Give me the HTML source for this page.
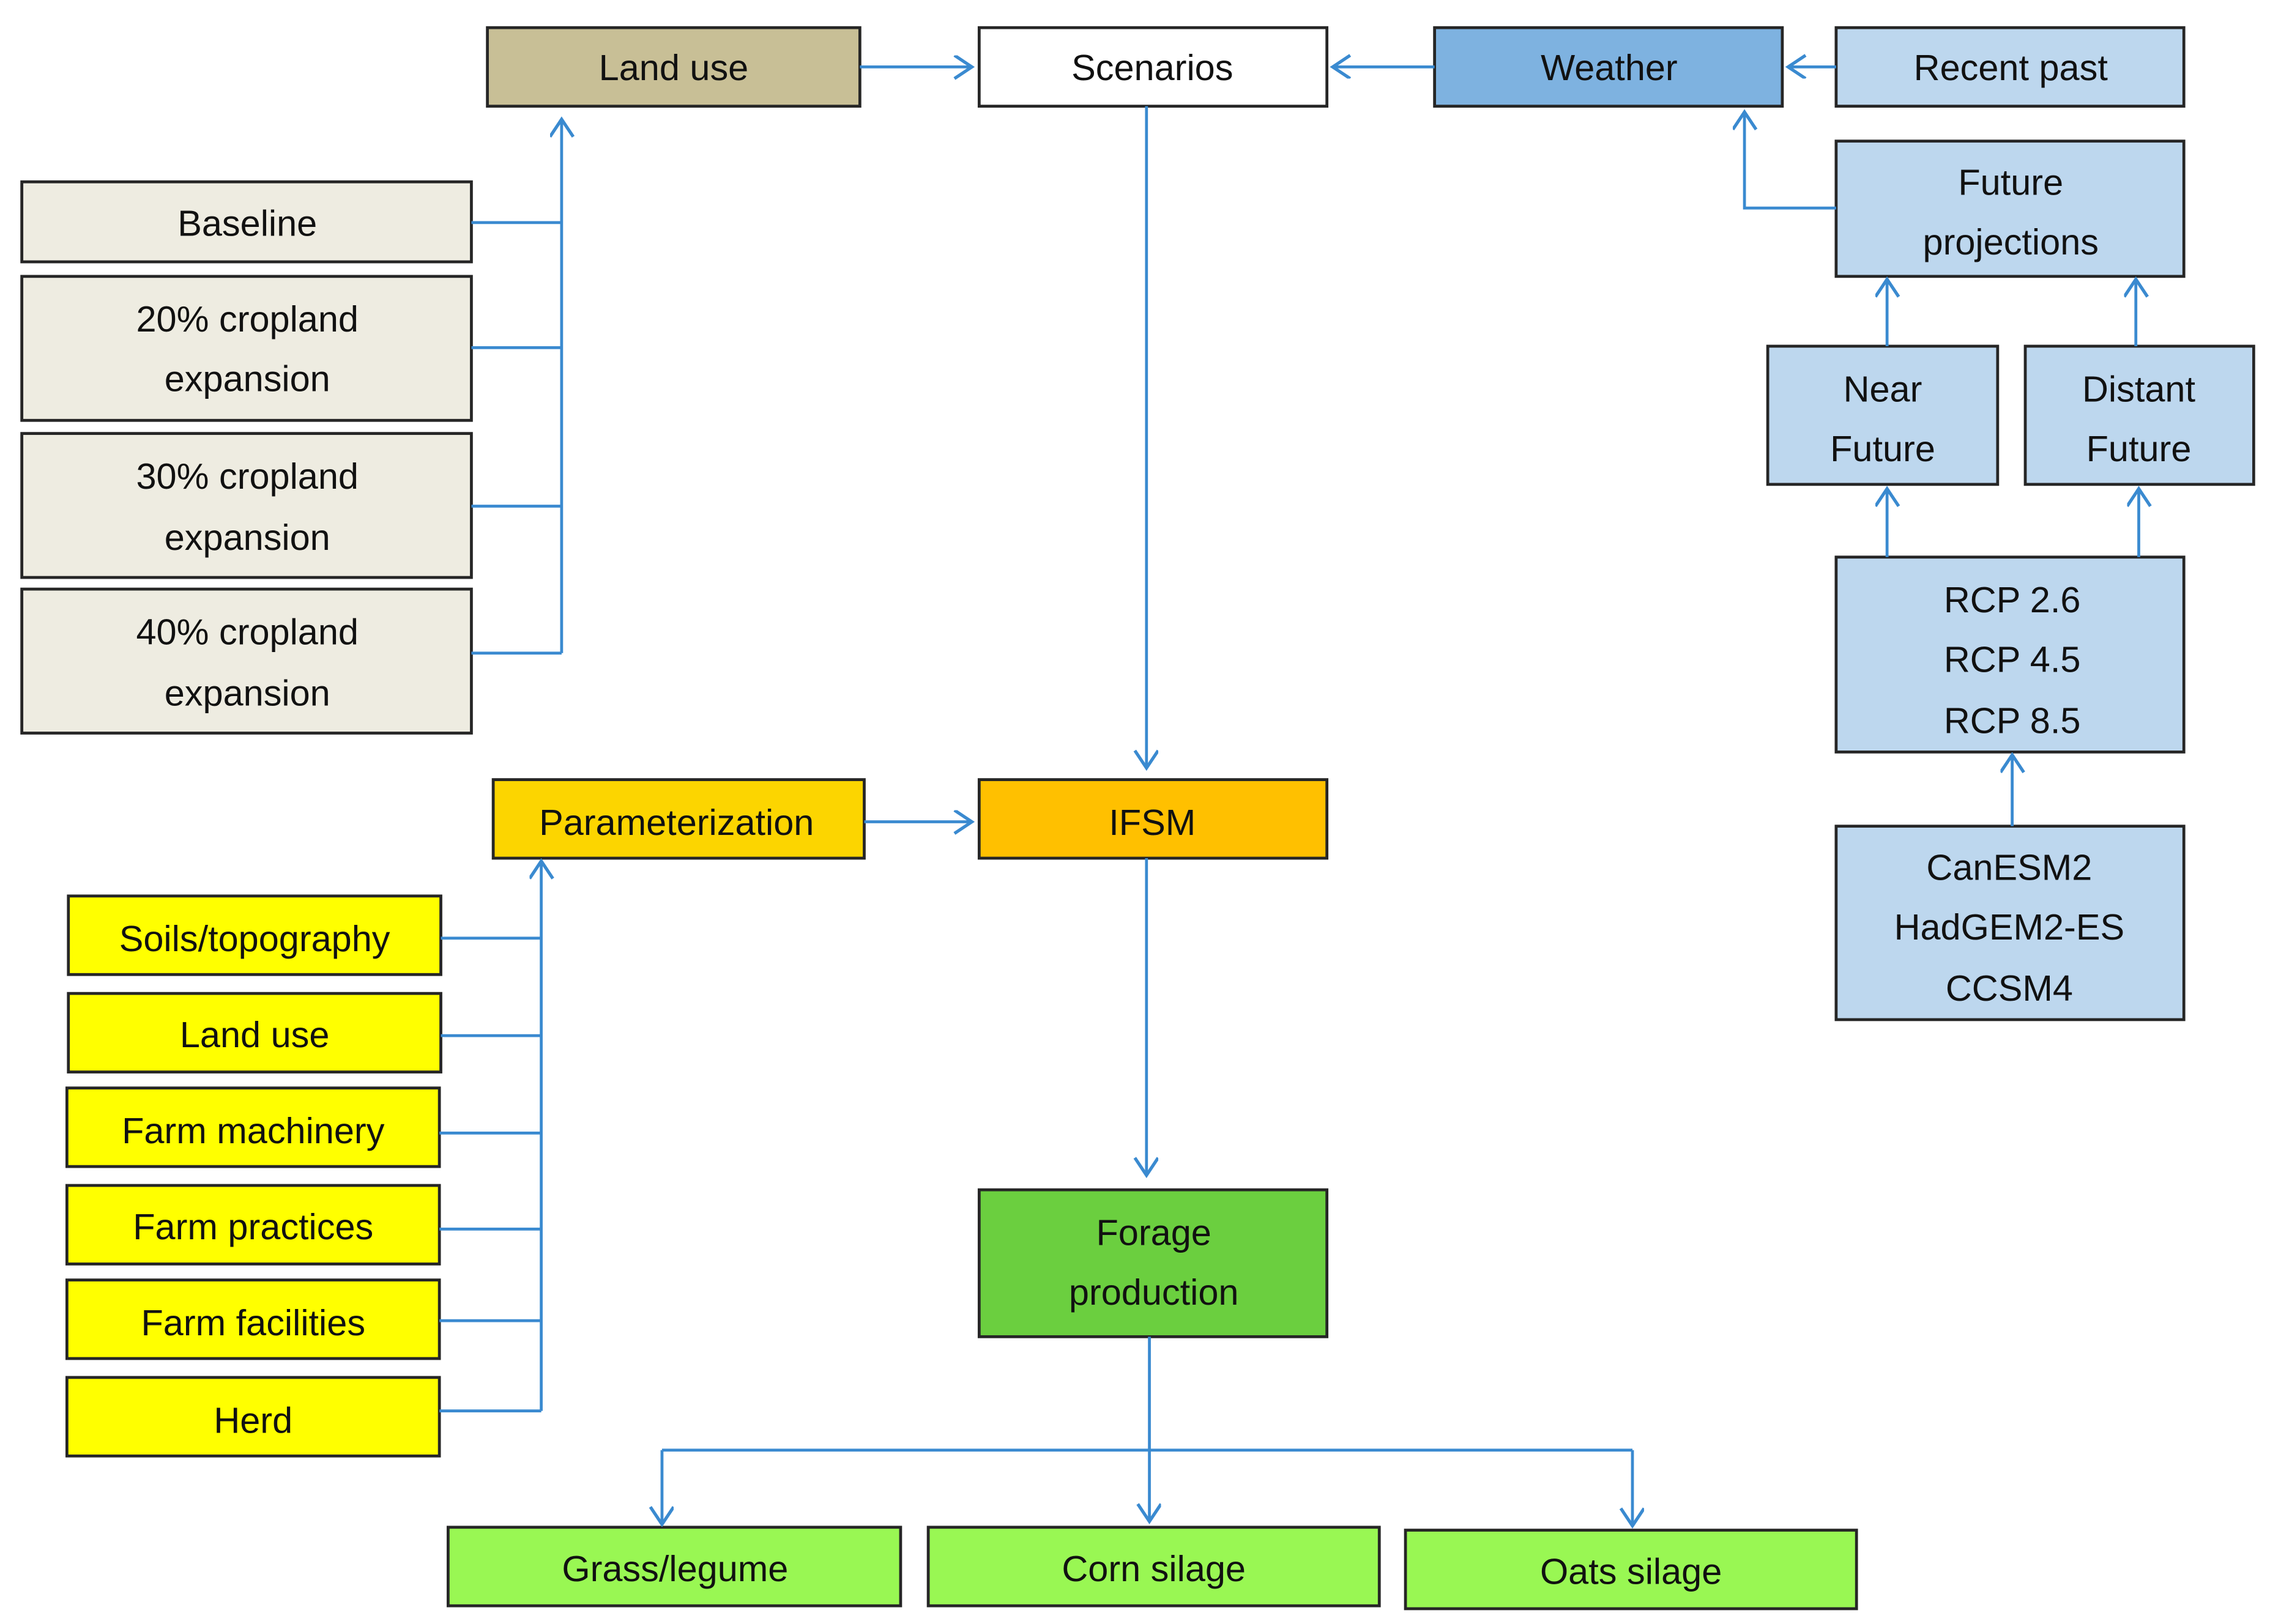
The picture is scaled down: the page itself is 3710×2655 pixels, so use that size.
<!DOCTYPE html>
<html><head><meta charset="utf-8"><style>html,body{margin:0;padding:0;background:#fff}svg{display:block}</style></head>
<body>
<svg width="3710" height="2655" viewBox="0 0 1560.2 1116.5" xmlns="http://www.w3.org/2000/svg" font-family="Liberation Sans, sans-serif" font-size="25" text-anchor="middle">
<defs>
<marker id="a" markerWidth="16" markerHeight="18" refX="14" refY="8" orient="auto" markerUnits="userSpaceOnUse">
<path d="M2,0 L14,8 L2,16" fill="none" stroke="#3a8ad0" stroke-width="2.2"/>
</marker>
</defs>
<g stroke="#262626" stroke-width="2">
<rect x="335" y="19" width="256" height="54" fill="#c8bf96"/>
<rect x="673" y="19" width="239" height="54" fill="#fff"/>
<rect x="986" y="19" width="239" height="54" fill="#7eb2e0"/>
<rect x="1262" y="19" width="239" height="54" fill="#bdd7ee"/>
<rect x="1262" y="97" width="239" height="93" fill="#bdd7ee"/>
<rect x="1215" y="238" width="158" height="95" fill="#bdd7ee"/>
<rect x="1392" y="238" width="157" height="95" fill="#bdd7ee"/>
<rect x="1262" y="383" width="239" height="134" fill="#bdd7ee"/>
<rect x="1262" y="568" width="239" height="133" fill="#bdd7ee"/>
<rect x="15" y="125" width="309" height="55" fill="#eeece1"/>
<rect x="15" y="190" width="309" height="99" fill="#eeece1"/>
<rect x="15" y="298" width="309" height="99" fill="#eeece1"/>
<rect x="15" y="405" width="309" height="99" fill="#eeece1"/>
<rect x="339" y="536" width="255" height="54" fill="#fcd500"/>
<rect x="673" y="536" width="239" height="54" fill="#ffc000"/>
<rect x="47" y="616" width="256" height="54" fill="#ffff00"/>
<rect x="47" y="683" width="256" height="54" fill="#ffff00"/>
<rect x="46" y="748" width="256" height="54" fill="#ffff00"/>
<rect x="46" y="815" width="256" height="54" fill="#ffff00"/>
<rect x="46" y="880" width="256" height="54" fill="#ffff00"/>
<rect x="46" y="947" width="256" height="54" fill="#ffff00"/>
<rect x="673" y="818" width="239" height="101" fill="#6bcf3f"/>
<rect x="308" y="1050" width="311" height="54" fill="#99f753"/>
<rect x="638" y="1050" width="310" height="54" fill="#99f753"/>
<rect x="966" y="1052" width="310" height="54" fill="#99f753"/>
</g>
<g stroke="#3a8ad0" stroke-width="2" fill="none">
<path d="M386,449 V82" marker-end="url(#a)"/>
<path d="M324,153 H386 M324,239 H386 M324,348 H386 M324,449 H386"/>
<path d="M591,46 H668" marker-end="url(#a)"/>
<path d="M986,46 H916" marker-end="url(#a)"/>
<path d="M1262,46 H1229" marker-end="url(#a)"/>
<path d="M1262,143 H1199 V77" marker-end="url(#a)"/>
<path d="M1297,238 V192" marker-end="url(#a)"/>
<path d="M1468,238 V192" marker-end="url(#a)"/>
<path d="M1297,383 V336" marker-end="url(#a)"/>
<path d="M1470,383 V336" marker-end="url(#a)"/>
<path d="M1383,568 V519" marker-end="url(#a)"/>
<path d="M788,73 V528" marker-end="url(#a)"/>
<path d="M594,565 H668" marker-end="url(#a)"/>
<path d="M372,970 V592" marker-end="url(#a)"/>
<path d="M303,645 H372 M303,712 H372 M302,779 H372 M302,845 H372 M302,908 H372 M302,970 H372"/>
<path d="M788,590 V808" marker-end="url(#a)"/>
<path d="M790,919 V1046" marker-end="url(#a)"/>
<path d="M455,997 H1122"/>
<path d="M455,997 V1048" marker-end="url(#a)"/>
<path d="M1122,997 V1049" marker-end="url(#a)"/>
</g>
<g fill="#111">
<text x="463" y="55">Land use</text>
<text x="792" y="55">Scenarios</text>
<text x="1106" y="55">Weather</text>
<text x="1382" y="55">Recent past</text>
<text x="1382" y="134">Future</text>
<text x="1382" y="175">projections</text>
<text x="1294" y="276">Near</text>
<text x="1294" y="317">Future</text>
<text x="1470" y="276">Distant</text>
<text x="1470" y="317">Future</text>
<text x="1383" y="421">RCP 2.6</text>
<text x="1383" y="462">RCP 4.5</text>
<text x="1383" y="504">RCP 8.5</text>
<text x="1381" y="605">CanESM2</text>
<text x="1381" y="646">HadGEM2-ES</text>
<text x="1381" y="688">CCSM4</text>
<text x="170" y="162">Baseline</text>
<text x="170" y="228">20% cropland</text>
<text x="170" y="269">expansion</text>
<text x="170" y="336">30% cropland</text>
<text x="170" y="378">expansion</text>
<text x="170" y="443">40% cropland</text>
<text x="170" y="485">expansion</text>
<text x="465" y="574">Parameterization</text>
<text x="792" y="574">IFSM</text>
<text x="175" y="654">Soils/topography</text>
<text x="175" y="720">Land use</text>
<text x="174" y="786">Farm machinery</text>
<text x="174" y="852">Farm practices</text>
<text x="174" y="918">Farm facilities</text>
<text x="174" y="985">Herd</text>
<text x="793" y="856">Forage</text>
<text x="793" y="897">production</text>
<text x="464" y="1087">Grass/legume</text>
<text x="793" y="1087">Corn silage</text>
<text x="1121" y="1089">Oats silage</text>
</g>
</svg>
</body></html>
